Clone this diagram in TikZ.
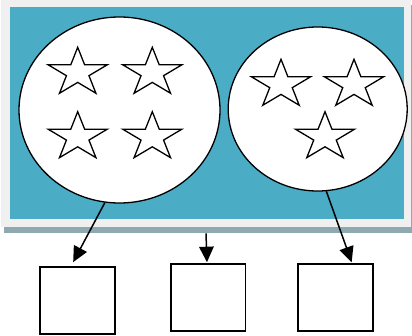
\documentclass[tikz,border=0pt]{standalone}
\usepackage{xcolor}
\usepackage{tikz}
\usetikzlibrary{shapes,arrows.meta,positioning,shadows}

\definecolor{panelblue}{HTML}{4BACC6}
\definecolor{panelgray}{HTML}{F0F0F0}
\definecolor{panelshadow}{HTML}{8FA9B1}

\tikzset{
    group/.style={ellipse, draw, fill=white, line width=1.3pt, inner sep=0pt},
    starmark/.style={star, star points=5, star point ratio=2.618, draw, fill=white, line width=1.3pt, minimum size=50.8pt, inner sep=0pt, xscale=1.22},
    slot/.style={rectangle, draw, fill=white, line width=1.6pt, minimum width=75pt, minimum height=67pt, inner sep=0pt},
    link/.style={-{Triangle[length=15.5pt,width=14.5pt]}, line width=1.5pt, shorten >=1pt}
}

\begin{document}
\begin{tikzpicture}[x=1pt, y=1pt]
    \useasboundingbox (0,0) rectangle (412,335);
    % Nodes
    \node (panel) [rectangle, fill=panelgray, minimum width=409.5pt, minimum height=227pt, inner sep=0pt, drop shadow={shadow xshift=3pt, shadow yshift=-5.5pt, fill=panelshadow, opacity=1}] at (205.75,221.5) {};
    \node (pool) [rectangle, fill=panelblue, minimum width=393.5pt, minimum height=212.3pt, inner sep=0pt] at (206.75,222.15) {};
    \node (lgroup) [group, minimum width=201pt, minimum height=186pt] at (119.5,225) {};
    \node (rgroup) [group, minimum width=179pt, minimum height=164pt] at (317.7,226) {};

    % Stars, left group
    \node (lstar1) [starmark] at (77.7,262.3) {};
    \node (lstar2) [starmark] at (152.3,262.3) {};
    \node (lstar3) [starmark] at (77.7,197.9) {};
    \node (lstar4) [starmark] at (152.3,197.9) {};
    % Stars, right group
    \node (rstar1) [starmark] at (281,250.3) {};
    \node (rstar2) [starmark] at (354,250.3) {};
    \node (rstar3) [starmark] at (325,197.9) {};

    \node (lslot) [slot] at (77.5,34.7) {};
    \node (mslot) [slot, minimum width=74.5pt] at (208.2,37.5) {};
    \node (rslot) [slot] at (335.5,37.5) {};
    \coordinate (tap) at (206,101.7);

    % Edges
    \draw[link] (lgroup.261) -- ([xshift=-4.8pt, yshift=3pt]lslot.north);
    \draw[link] (tap) -- ([xshift=-1.2pt]mslot.north);
    \draw[link] (rgroup.276.5) -- ([xshift=16.5pt]rslot.north);
\end{tikzpicture}
\end{document}
